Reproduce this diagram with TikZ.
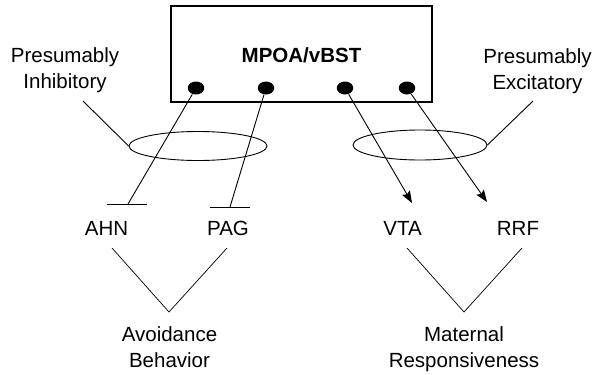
\documentclass[tikz,border=0pt]{standalone}
\usepackage{fontspec}
\setmainfont{Liberation Sans}
\usetikzlibrary{shapes.geometric,arrows.meta}

\begin{document}
\begin{tikzpicture}[x=1pt,y=-1pt,line width=0.9pt,
	lbl/.style={font=\fontsize{20.5}{26}\selectfont, inner sep=0pt, align=center},
	cell/.style={ellipse, fill=black, inner sep=0pt, minimum width=16.5pt, minimum height=13pt},
	ring/.style={ellipse, draw, inner sep=0pt},
	tip/.style={-{Stealth[length=12pt,width=9pt,inset=2pt]}},
	vee/.style={line width=0.7pt}]
				\useasboundingbox (0,0) rectangle (595,375);
				% nucleus
				\node[draw, line width=1.1pt, minimum width=261pt, minimum height=96pt] (mpoa) at (301.5,54) {};
				\node[lbl, font=\fontsize{20.5}{26}\selectfont\bfseries, anchor=base] (mpoatitle) at (301.5,62) {MPOA/vBST};
				\node[cell] (c1) at (196,88) {};
				\node[cell] (c2) at (266,88) {};
				\node[cell] (c3) at (345,88) {};
				\node[cell] (c4) at (407,88) {};
				% targets
				\node[lbl, anchor=base] (ahn) at (106.5,235) {AHN};
				\node[lbl, anchor=base] (pag) at (228,235) {PAG};
				\node[lbl, anchor=base] (vta) at (402.5,235) {VTA};
				\node[lbl, anchor=base] (rrf) at (518,235) {RRF};
				\coordinate (ahnend) at (128,204);
				\coordinate (pagend) at (230,207);
				\coordinate (vtaend) at (412,203);
				\coordinate (rrfend) at (487,202);
				\draw (c1) -- (ahnend);
				\draw ([xshift=-21pt]ahnend) -- ([xshift=19pt]ahnend);
				\draw (c2) -- (pagend);
				\draw ([xshift=-20pt]pagend) -- ([xshift=20pt]pagend);
				\draw[tip] (c3) -- (vtaend);
				\draw[tip] (c4) -- (rrfend);
				% groupings
				\node[ring, minimum width=138pt, minimum height=29pt] (inhring) at (198,146) {};
				\node[ring, minimum width=134pt, minimum height=30pt] (excring) at (420,145) {};
				\node[lbl] (inhlabel) at (65,70) {Presumably\\Inhibitory};
				\node[lbl] (exclabel) at (537.5,71) {Presumably\\Excitatory};
				\coordinate (inhfoot) at (83,101);
				\coordinate (excfoot) at (533,101);
				\draw (inhfoot) -- (inhring.west);
				\draw (excfoot) -- (excring.east);
				% behaviours
				\node[lbl] (avoid) at (169.5,347.5) {Avoidance\\Behavior};
				\node[lbl] (matern) at (464,349.5) {Maternal\\Responsiveness};
				\coordinate (avl) at (112,248);
				\coordinate (avr) at (227,248);
				\coordinate (avbot) at (169,312);
				\coordinate (mal) at (407,248);
				\coordinate (mar) at (522,248);
				\coordinate (mabot) at (464,312);
				\draw[vee] (avl) -- (avbot) -- (avr);
				\draw[vee] (mal) -- (mabot) -- (mar);
			\end{tikzpicture}
\end{document}
